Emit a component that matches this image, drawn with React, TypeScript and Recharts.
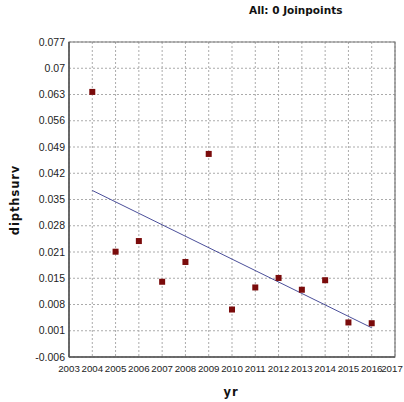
import React from 'react'
import {
  ComposedChart,
  Scatter,
  Line,
  XAxis,
  YAxis,
  CartesianGrid,
  ReferenceArea,
} from 'recharts'

// observed rates per year
const years = [2004, 2005, 2006, 2007, 2008, 2009, 2010, 2011, 2012, 2013, 2014, 2015, 2016]
const observed = [0.0635, 0.0215, 0.0243, 0.0136, 0.0188, 0.0472, 0.0063, 0.0121, 0.0146, 0.0115, 0.014, 0.0029, 0.0027]
// fitted segment (0 joinpoints -> one straight segment)
const fitted = [0.0376, null, null, null, null, null, null, null, null, null, null, null, 0.0015]

const xTicks = [2003, 2004, 2005, 2006, 2007, 2008, 2009, 2010, 2011, 2012, 2013, 2014, 2015, 2016, 2017]
const yTicks = [
  -0.00618, 0.00072, 0.00762, 0.01452, 0.02142, 0.02832, 0.03522, 0.04212, 0.04902, 0.05592, 0.06282,
  0.06972, 0.07662,
]

const chartData = years.map((yr, i) => ({ yr, rate: observed[i], fit: fitted[i] }))

const fmtY = (v: number) => String(parseFloat(v.toFixed(3)))

const SquareDot = (props: any) => {
  const { cx, cy } = props
  if (cx == null || cy == null) return null
  return <rect x={cx - 3} y={cy - 3} width={6} height={6} fill="#7a0b0b" />
}

// year labels; the last one is pulled in so it stays inside the page
const YearTick = (props: any) => {
  const { x, y, payload } = props
  const cx = Math.min(x, 392)
  return (
    <text
      x={cx}
      y={y}
      dy="0.71em"
      textAnchor="middle"
      fill="#222"
      fontSize={9.7}
      fontFamily='"Liberation Sans", Arial, sans-serif'
    >
      {payload.value}
    </text>
  )
}

export default function App() {
  const yMin = yTicks[0]
  const yMax = yTicks[yTicks.length - 1]
  return (
    <div style={{ position: 'absolute', left: 0, top: 0, width: 404, height: 402, background: '#fff' }}>
      <div
        style={{
          position: 'absolute',
          left: 249,
          top: 4,
          fontFamily: '"DejaVu Sans", Verdana, sans-serif',
          fontWeight: 'bold',
          fontSize: 10.5,
          color: '#111',
          whiteSpace: 'nowrap',
        }}
      >
        All: 0 Joinpoints
      </div>
      <ComposedChart
        width={404}
        height={402}
        data={chartData}
        margin={{ top: 42, right: 9, bottom: 20, left: 0 }}
      >
        <CartesianGrid stroke="#ababab" strokeDasharray="2 2" />
        <XAxis
          type="number"
          dataKey="yr"
          domain={[2003, 2017]}
          ticks={xTicks}
          interval={0}
          height={25}
          tickLine={false}
          axisLine={{ stroke: '#555', strokeWidth: 1.5 }}
          tick={<YearTick />}
        />
        <YAxis
          type="number"
          domain={[yMin, yMax]}
          ticks={yTicks}
          interval={0}
          width={69}
          tickLine={false}
          tickSize={2}
          tickMargin={2}
          tickFormatter={fmtY}
          axisLine={{ stroke: '#555', strokeWidth: 1.5 }}
          tick={{ fill: '#222', fontSize: 10.5, fontFamily: '"Liberation Sans", Arial, sans-serif' }}
        />
        <ReferenceArea
          x1={2003}
          x2={2017}
          y1={yMin}
          y2={yMax}
          fill="none"
          stroke="#777"
          strokeWidth={1.2}
          ifOverflow="visible"
        />
        <Line
          dataKey="fit"
          stroke="#4b4f9a"
          strokeWidth={1}
          dot={false}
          connectNulls
          isAnimationActive={false}
        />
        <Scatter dataKey="rate" shape={SquareDot} isAnimationActive={false} />
      </ComposedChart>
      <div
        style={{
          position: 'absolute',
          left: 15,
          top: 200,
          transform: 'translate(-50%, -50%) rotate(-90deg)',
          fontFamily: '"DejaVu Sans", Verdana, sans-serif',
          fontWeight: 'bold',
          fontSize: 11.5,
          letterSpacing: 0.9,
          color: '#111',
          whiteSpace: 'nowrap',
        }}
      >
        dipthsurv
      </div>
      <div
        style={{
          position: 'absolute',
          left: 231,
          top: 392,
          transform: 'translate(-50%, -50%)',
          fontFamily: '"DejaVu Sans", Verdana, sans-serif',
          fontWeight: 'bold',
          fontSize: 11.5,
          letterSpacing: 0.8,
          color: '#111',
          whiteSpace: 'nowrap',
        }}
      >
        yr
      </div>
    </div>
  )
}
